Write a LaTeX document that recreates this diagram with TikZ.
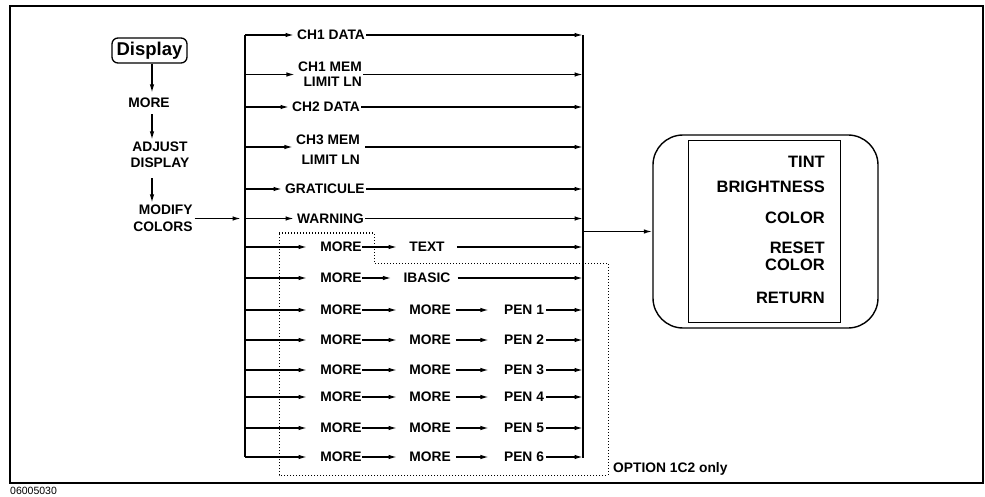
\documentclass[tikz,border=0pt]{standalone}
\usepackage{fontspec}
\setmainfont{Liberation Sans}
\usetikzlibrary{arrows.meta}
\begin{document}
\begin{tikzpicture}[x=1pt,y=-1pt,
  ln/.style={line width=1.4pt},
  arr/.style={ln,-{Latex[length=8.5pt,width=4.5pt]}},
  lbl/.style={font=\bfseries\fontsize{13.8}{15}\selectfont, inner sep=0pt},
  keytxt/.style={font=\bfseries\fontsize{16.5}{17}\selectfont, inner sep=0pt, anchor=east, align=right},
  dotline/.style={dotted, line width=1pt}
]
\fill[white] (0,0) rectangle (985,497);
\useasboundingbox (0,0) rectangle (985,497);
% frame and figure code
\draw[line width=2.2pt] (10,6) rectangle (983,483);
\node[anchor=north west, inner sep=0pt, font=\fontsize{10.5}{11}\selectfont] (code) at (10,486.5) {06005030};

% left column
\coordinate (ax) at (152,0);
\node[draw, rounded corners=6pt, line width=1.3pt, minimum width=75pt, minimum height=25pt, inner sep=0pt, font=\bfseries\fontsize{18.5}{20}\selectfont] (disp) at (149.5,50.5) {Display};
\node[lbl] (m0) at (149,103) {MORE};
\node[lbl, align=center] (adj) at (160,155) {ADJUST\\[1pt]DISPLAY};
\node[lbl, align=right] (mod) at (163,218.5) {MODIFY\\[2pt]COLORS};
\draw[arr, shorten >=5pt] (disp.south -| ax) -- (m0.north -| ax);
\draw[arr, shorten <=6pt, shorten >=2pt] (m0.south -| ax) -- (adj.north -| ax);
\draw[arr, shorten <=10pt, shorten >=2pt] (adj.south -| ax) -- (mod.north -| ax);

% buses
\coordinate (bt) at (245,35);
\coordinate (bb) at (245,457);
\coordinate (rt) at (583,35);
\coordinate (rb) at (583,458);
\draw[ln] (bt) -- (bb);
\draw[ln] (rt) -- (rb);
\draw[arr, shorten <=2pt, shorten >=4pt] (mod.east) -- (mod.east -| bt);

% rows 1-6
\node[lbl, anchor=west] (r1) at (297,35) {CH1 DATA};
\node[lbl, anchor=east, align=right] (r2) at (362,74.5) {CH1 MEM\\LIMIT LN};
\node[lbl, anchor=west] (r3) at (292,107) {CH2 DATA};
\node[lbl, anchor=east, align=right] (r4) at (360,150) {CH3 MEM\\[5pt]LIMIT LN};
\coordinate (y4) at (0,147);
\node[lbl, anchor=west] (r5) at (285,189) {GRATICULE};
\node[lbl, anchor=west] (r6) at (297,218.5) {WARNING};
\foreach \n in {r1,r2,r3,r5,r6}{
  \draw[arr, shorten >=3pt] (\n.west -| bt) -- (\n.west);
  \draw[arr, shorten <=1pt] (\n.east) -- (\n.east -| rt);
}
\draw[arr, shorten >=3pt] (y4 -| bt) -- (y4 -| r4.west);
\draw[arr, shorten <=5pt] (y4 -| r4.east) -- (y4 -| rt);

% rows 7-8
\node[lbl] (ma7) at (341,247) {MORE};
\node[lbl] (t7) at (427,247) {TEXT};
\node[lbl] (ma8) at (341,278) {MORE};
\node[lbl] (t8) at (427,278) {IBASIC};
\foreach \a/\b in {ma7/t7,ma8/t8}{
  \draw[arr, shorten >=13pt] (\a.west -| bt) -- (\a.west);
  \draw[arr, shorten >=12pt] (\a.east) -- (\b.west);
}
\draw[arr, shorten <=12pt] (t7.east) -- (t7.east -| rt);
\draw[arr, shorten <=7pt] (t8.east) -- (t8.east -| rt);

% rows 9-14
\foreach \i/\y in {1/310,2/340,3/370,4/397,5/428,6/457}{
  \node[lbl] (ma\i) at (341,\y) {MORE};
  \node[lbl] (mb\i) at (430,\y) {MORE};
  \node[lbl] (p\i) at (524,\y) {PEN \i};
  \draw[arr, shorten >=13pt] (ma\i.west -| bt) -- (ma\i.west);
  \draw[arr, shorten >=12pt] (ma\i.east) -- (mb\i.west);
  \draw[arr, shorten <=5pt, shorten >=15pt] (mb\i.east) -- (p\i.west);
  \draw[arr, shorten <=2pt] (p\i.east) -- (p\i.east -| rt);
}

% option region
\draw[dotline] (279,233) -- (374,233) -- (374,263) -- (608,263) -- (608,475) -- (279,475) -- cycle;
\node[lbl, anchor=base west] (opt) at (613,472) {OPTION 1C2 only};

% menu
\node[draw, rounded corners=30pt, line width=1.4pt, minimum width=225pt, minimum height=193pt, inner sep=0pt] (menu) at (765.5,231.5) {};
\node[draw, line width=1pt, minimum width=152pt, minimum height=181pt, inner sep=0pt] (keys) at (764,231.5) {};
\draw[arr] (menu.west -| rt) -- (menu.west);
\node[keytxt] (k1) at (825,162) {TINT};
\node[keytxt] (k2) at (825,187) {BRIGHTNESS};
\node[keytxt] (k3) at (825,218) {COLOR};
\node[keytxt] (k4) at (825,256.5) {RESET\\COLOR};
\node[keytxt] (k5) at (825,298) {RETURN};
\end{tikzpicture}
\end{document}
